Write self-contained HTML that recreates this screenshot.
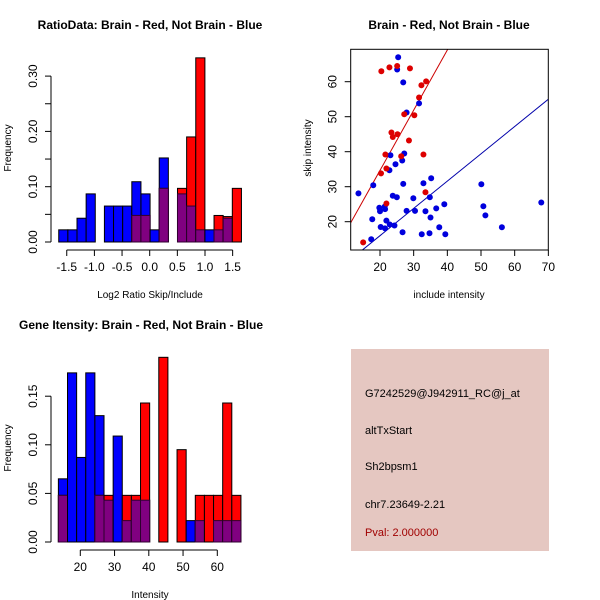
<!DOCTYPE html>
<html><head><meta charset="utf-8">
<style>
body{margin:0;background:#fff;}
svg{display:block;font-family:"Liberation Sans",sans-serif;}
</style></head>
<body>
<svg id="chart" width="600" height="600" viewBox="0 0 600 600" xmlns="http://www.w3.org/2000/svg">
<rect x="0" y="0" width="600" height="600" fill="#fff"/>
<g id="p1"></g>
<g id="p2"></g>
<g id="p3"></g>
<g id="p4">
<rect x="351" y="349" width="198" height="202" fill="#e5c7c1"/>
<text x="365" y="397" font-size="11" fill="#000">G7242529@J942911_RC@j_at</text>
<text x="365" y="434" font-size="11" fill="#000">altTxStart</text>
<text x="365" y="470" font-size="11" fill="#000">Sh2bpsm1</text>
<text x="365" y="508" font-size="11" fill="#000">chr7.23649-2.21</text>
<text x="365" y="536" font-size="11" fill="#a00000">Pval: 2.000000</text>
</g>
</svg>
<script>
// ---- Panel 1 data: Log2 ratio histogram ----
const ratioBinStart = -1.645;
const ratioBinWidth = 0.1652;
const ratioBlue = [0.022,0.022,0.043,0.087,0,0.065,0.065,0.065,0.109,0.087,0.022,0.152,0,0.087,0.065,0.022,0.022,0.022,0.043,0];
const ratioRed  = [0,0,0,0,0,0,0,0,0.048,0.048,0,0.097,0,0.097,0.19,0.333,0,0.048,0.046,0.097];
const ratioXTicks = [-1.5,-1.0,-0.5,0.0,0.5,1.0,1.5];
const ratioXTickLabels = ["-1.5","-1.0","-0.5","0.0","0.5","1.0","1.5"];
const ratioYTicks = [0,0.05,0.10,0.15,0.20,0.25,0.30];
const ratioYTickLabels = ["0.00","","0.10","","0.20","","0.30"];

// ---- Panel 3 data: Gene intensity histogram ----
const intBinStart = 13.6;
const intBinWidth = 2.665;
const intBlue = [0.065,0.174,0.087,0.174,0.130,0.043,0.109,0.022,0.043,0.043,0,0,0,0,0.022,0.022,0,0.022,0.022,0.022];
const intRed  = [0.048,0,0,0,0.048,0.048,0,0.048,0.048,0.143,0,0.19,0,0.095,0,0.048,0.048,0.048,0.143,0.048];
const intXTicks = [20,30,40,50,60];
const intXTickLabels = ["20","30","40","50","60"];
const intYTicks = [0,0.05,0.10,0.15];
const intYTickLabels = ["0.00","0.05","0.10","0.15"];

// ---- Panel 2 data: scatter ----
const redX = [15.0,20.4,22.8,25.1,28.9,33.7,32.3,31.6,27.2,30.2,23.4,23.8,25.2,28.6,21.6,32.9,20.3,21.9,26.3,33.5,21.9];
const redY = [14.1,63.0,64.1,64.5,63.8,60.1,59.0,55.5,50.7,50.4,45.5,44.2,45.0,43.2,39.2,39.2,33.8,35.2,38.7,28.4,25.2];
const blueX = [25.4,25.1,26.9,31.6,27.9,23.1,27.2,26.6,22.8,24.6,26.9,18.0,13.6,32.9,35.2,50.1,23.8,25.0,29.9,34.8,39.1,36.7,50.7,51.3,19.8,21.4,20.0,21.5,17.7,21.9,35.0,27.9,30.4,33.5,22.9,24.3,20.2,21.5,26.7,32.4,34.7,39.4,37.6,56.2,67.9,17.4];
const blueY = [67.0,63.5,59.8,53.8,51.2,39.0,39.5,37.5,34.7,36.4,30.8,30.4,28.1,31.0,32.4,30.7,27.4,27.0,26.7,27.0,25.0,23.8,24.4,21.8,24.0,24.3,23.0,23.6,20.7,20.3,21.2,23.1,23.1,23.0,19.2,18.9,18.5,18.1,17.0,16.4,16.7,16.4,18.4,18.4,25.5,15.0];
const lineIntercept = [0.26, 0.4];   // red, blue
const lineSlope = [1.72, 0.78];
const scXTicks = [20,30,40,50,60,70];
const scYTicks = [20,30,40,50,60];

const NS = "http://www.w3.org/2000/svg";
function mk(parent, tag, attrs){
  const e = document.createElementNS(NS, tag);
  for (const k in attrs) e.setAttribute(k, attrs[k]);
  parent.appendChild(e);
  return e;
}
function txt(parent, x, y, s, size, opts){
  const t = mk(parent, "text", Object.assign({x:x, y:y, "font-size":size, fill:"#000", "text-anchor":"middle"}, opts||{}));
  t.textContent = s;
  return t;
}

function histogram(g, cfg){
  const sx = v => cfg.x0 + (v - cfg.xv0) * cfg.xs;
  const sy = v => cfg.y0 - v * cfg.ys;
  const n = cfg.blue.length;
  for (let i = 0; i < n; i++){
    const a = sx(cfg.start + i*cfg.width), b = sx(cfg.start + (i+1)*cfg.width);
    const bl = cfg.blue[i], rd = cfg.red[i], mn = Math.min(bl, rd);
    if (bl > 0){
      const r = mk(g, "rect", {x:a, y:sy(bl), width:b-a, height:sy(0)-sy(bl), fill:"#0000ff", stroke:"#000", "stroke-width":1});
      
      
    }
    if (rd > 0){
      const r = mk(g, "rect", {x:a, y:sy(rd), width:b-a, height:sy(0)-sy(rd), fill:"#ff0000", stroke:"#000", "stroke-width":1});
      
      
    }
    if (mn > 0){
      const r = mk(g, "rect", {x:a, y:sy(mn), width:b-a, height:sy(0)-sy(mn), fill:"#800080", stroke:"#300030", "stroke-width":1});
      
      
    }
  }
  const ya = mk(g, "g", {});
  
  
  const yt0 = sy(cfg.yTicks[0]), yt1 = sy(cfg.yTicks[cfg.yTicks.length-1]);
  mk(ya, "line", {x1:cfg.axX, y1:yt0, x2:cfg.axX, y2:yt1, stroke:"#000"});
  cfg.yTicks.forEach((v, i) => {
    mk(ya, "line", {x1:cfg.axX-6, y1:sy(v), x2:cfg.axX, y2:sy(v), stroke:"#000"});
    if (cfg.yLabels[i]){
      const t = txt(ya, cfg.axX-14, sy(v), cfg.yLabels[i], 12, {transform:"rotate(-90 "+(cfg.axX-14)+" "+sy(v)+")"});
      
      
    }
  });
  const xa = mk(g, "g", {});
  
  
  mk(xa, "line", {x1:sx(cfg.xTicks[0]), y1:cfg.axY, x2:sx(cfg.xTicks[cfg.xTicks.length-1]), y2:cfg.axY, stroke:"#000"});
  cfg.xTicks.forEach((v, i) => {
    mk(xa, "line", {x1:sx(v), y1:cfg.axY, x2:sx(v), y2:cfg.axY+6, stroke:"#000"});
    const t = txt(xa, sx(v), cfg.axY+21, cfg.xLabels[i], 12);
    
    
  });
}

const g1 = document.getElementById("p1");
histogram(g1, {x0:149.7, xv0:0, xs:55.3, y0:242, ys:553, start:ratioBinStart, width:ratioBinWidth,
  blue:ratioBlue, red:ratioRed, xTicks:ratioXTicks, xLabels:ratioXTickLabels, yTicks:ratioYTicks, yLabels:ratioYTickLabels, axX:51, axY:250});
let t;
t = txt(g1, 150, 29, "RatioData: Brain - Red, Not Brain - Blue", 12, {"font-weight":"bold"});


t = txt(g1, 150, 298, "Log2 Ratio Skip/Include", 10);


t = txt(g1, 11, 148, "Frequency", 10, {transform:"rotate(-90 11 148)"});



const g3 = document.getElementById("p3");
histogram(g3, {x0:80.3, xv0:20, xs:3.425, y0:542, ys:972, start:intBinStart, width:intBinWidth,
  blue:intBlue, red:intRed, xTicks:intXTicks, xLabels:intXTickLabels, yTicks:intYTicks, yLabels:intYTickLabels, axX:51, axY:550});
t = txt(g3, 141, 329, "Gene Itensity: Brain - Red, Not Brain - Blue", 12, {"font-weight":"bold"});


t = txt(g3, 150, 598, "Intensity", 10);


t = txt(g3, 11, 448, "Frequency", 10, {transform:"rotate(-90 11 448)"});



const g2 = document.getElementById("p2");
const bx0 = 350.7, bx1 = 548.3, by0 = 49.3, by1 = 250;
const sx2 = v => 380 + (v - 20) * 3.367;
const sy2 = v => 221.7 - (v - 20) * 3.5;
const xmin = 20 + (bx0 - 380)/3.367, xmax = 20 + (bx1 - 380)/3.367;
const clip = mk(g2, "clipPath", {id:"scclip"});
mk(clip, "rect", {x:bx0, y:by0, width:bx1-bx0, height:by1-by0});
const lineColors = ["#cc0000", "#0000aa"];
const lineNames = ["fit-line-red", "fit-line-blue"];
for (let k = 0; k < 2; k++){
  const l = mk(g2, "line", {x1:sx2(xmin), y1:sy2(lineIntercept[k]+lineSlope[k]*xmin), x2:sx2(xmax), y2:sy2(lineIntercept[k]+lineSlope[k]*xmax), stroke:lineColors[k], "stroke-width":1, "clip-path":"url(#scclip)"});
  
  
}
for (let i = 0; i < blueX.length; i++){
  const c = mk(g2, "circle", {cx:sx2(blueX[i]), cy:sy2(blueY[i]), r:3, fill:"#0000dd"});
  
  
}
for (let i = 0; i < redX.length; i++){
  const c = mk(g2, "circle", {cx:sx2(redX[i]), cy:sy2(redY[i]), r:3, fill:"#dd0000"});
  
  
}
const box = mk(g2, "rect", {x:bx0, y:by0, width:bx1-bx0, height:by1-by0, fill:"none", stroke:"#000"});


scXTicks.forEach(v => {
  mk(g2, "line", {x1:sx2(v), y1:by1, x2:sx2(v), y2:by1+6, stroke:"#000"});
  const tt = txt(g2, sx2(v), by1+21, String(v), 12);
  
  
});
scYTicks.forEach(v => {
  mk(g2, "line", {x1:bx0-6, y1:sy2(v), x2:bx0, y2:sy2(v), stroke:"#000"});
  const tt = txt(g2, bx0-14, sy2(v), String(v), 12, {transform:"rotate(-90 "+(bx0-14)+" "+sy2(v)+")"});
  
  
});
t = txt(g2, 449, 29, "Brain - Red, Not Brain - Blue", 12, {"font-weight":"bold"});


t = txt(g2, 449, 298, "include intensity", 10);


t = txt(g2, 311, 148, "skip intensity", 10, {transform:"rotate(-90 311 148)"});


</script>
</body></html>
